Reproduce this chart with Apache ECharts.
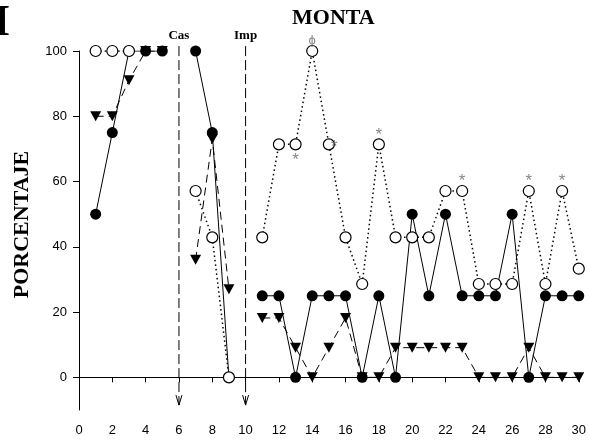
<!DOCTYPE html>
<html>
<head>
<meta charset="utf-8">
<script src="https://cdn.jsdelivr.net/npm/echarts@6/dist/echarts.min.js"></script>
<style>html,body{margin:0;padding:0;background:#fff;}#c{width:589px;height:442px;}</style>
</head>
<body>
<div id="c"></div>
<script>
// ---- data ----
const days = [1,2,3,4,5,6,7,8,9,10,11,12,13,14,15,16,17,18,19,20,21,22,23,24,25,26,27,28,29,30];
const filledCircle = [50,75,100,100,100,null,100,75,0,null,25,25,0,25,25,25,0,25,0,50,25,50,25,25,25,50,0,25,25,25];
const triangleDown = [80,80,91,100,100,null,36,73,27,null,18.2,18.2,9.1,0,9.1,18.2,0,0,9.1,9.1,9.1,9.1,9.1,0,0,0,9.1,0,0,0];
const openCircle = [100,100,100,null,null,null,57.1,42.9,0,null,42.9,71.4,71.4,100,71.4,42.9,28.6,71.4,42.9,42.9,42.9,57.1,57.1,28.6,28.6,28.6,57.1,28.6,57.1,33.3];
const eventDays = [6,10];
const eventLabels = ['Cas','Imp'];
const eventTop = 101.5;
const eventBottom = -8.5;
const annoDays = [13,14,15,18,23,27,29];
const annoText = ['*','\u03D5','*','*','*','*','*'];
const annoPos = ['bottom','top','right','top','top','top','top'];
const yTicks = [0,20,40,60,80,100];

const pairs = arr => days.map((d,i) => [d, arr[i]]);
const serif = '"Liberation Serif","Times New Roman",serif';
const sans = '"Liberation Sans",Arial,sans-serif';
const annoDist = {bottom: 7, right: 2, top: 1};
const annoShift = {bottom: [0,0], right: [0,3], top: [0,0]};

const chart = echarts.init(document.getElementById('c'), null, {renderer:'canvas'});
chart.setOption({
  animation: false,
  backgroundColor: '#fff',
  title: {
    text: 'MONTA', left: 287, top: 2,
    textStyle: {fontFamily: serif, fontWeight: 'bold', fontSize: 22, color: '#000'}
  },
  graphic: [{
    type: 'text', left: -7, top: 2,
    style: {text: 'I', font: 'bold 44px ' + serif, fill: '#000'}
  }],
  grid: {left: 79, right: 9, top: 51, bottom: 32, containLabel: false},
  xAxis: {
    type: 'value', min: 0, max: 30, interval: 2,
    axisLine: {lineStyle: {color: '#000', width: 1}},
    axisTick: {show: true, length: 5, lineStyle: {color: '#000'}},
    axisLabel: {color: '#000', fontFamily: sans, fontSize: 13, margin: 14},
    splitLine: {show: false}
  },
  yAxis: {
    type: 'value', min: -10, max: 100,
    name: 'PORCENTAJE', nameLocation: 'middle', nameGap: 46,
    nameTextStyle: {fontFamily: serif, fontWeight: 'bold', fontSize: 22, color: '#000', padding: [0,0,0,12]},
    axisLine: {show: true, lineStyle: {color: '#000', width: 1}},
    axisTick: {show: true, length: 6, customValues: yTicks, lineStyle: {color: '#000'}},
    axisLabel: {color: '#000', fontFamily: sans, fontSize: 13, margin: 12, customValues: yTicks},
    splitLine: {show: false}
  },
  series: [
    {
      type: 'line', name: 'tri', data: pairs(triangleDown), z: 2,
      symbol: 'path://M0,0 L10,0 L5,9 Z', symbolSize: [11,10], showAllSymbol: true,
      lineStyle: {color: '#000', width: 1, type: [8,5]},
      itemStyle: {color: '#000'}
    },
    {
      type: 'line', name: 'filled', data: pairs(filledCircle), z: 3,
      symbol: 'circle', symbolSize: 11, showAllSymbol: true,
      lineStyle: {color: '#000', width: 1},
      itemStyle: {color: '#000'}
    },
    {
      type: 'line', name: 'open', data: pairs(openCircle), z: 4,
      symbol: 'circle', symbolSize: 11, showAllSymbol: true,
      lineStyle: {color: '#000', width: 1.5, type: [1.5,3]},
      itemStyle: {color: '#fff', borderColor: '#000', borderWidth: 1.2}
    },
    {
      type: 'scatter', name: 'anno', z: 5, symbolSize: 0, silent: true,
      data: annoDays.map((d,i) => ({
        value: [d, openCircle[days.indexOf(d)]],
        label: {show: true, formatter: annoText[i], position: annoPos[i],
                distance: annoText[i] === '*' ? annoDist[annoPos[i]] : 4,
                offset: annoText[i] === '*' ? annoShift[annoPos[i]] : [0,0],
                color: '#666', fontFamily: sans, fontSize: annoText[i] === '*' ? 17 : 13}
      }))
    },
    {
      type: 'custom', name: 'events', z: 1, clip: false,
      data: eventDays.map((d,i) => [d, eventTop, eventBottom, i]),
      renderItem: function (params, api) {
        const top = api.coord([api.value(0), api.value(1)]);
        const bot = api.coord([api.value(0), api.value(2)]);
        const label = eventLabels[api.value(3)];
        return {
          type: 'group',
          children: [
            {type: 'line', shape: {x1: top[0], y1: top[1], x2: bot[0], y2: bot[1]},
             style: {stroke: '#000', lineWidth: 1, lineDash: [10,4]}},
            {type: 'polyline', shape: {points: [[bot[0]-3, bot[1]-10],[bot[0], bot[1]],[bot[0]+3, bot[1]-10]]},
             style: {stroke: '#000', lineWidth: 1, fill: null}},
            {type: 'text', style: {text: label, x: top[0], y: top[1]-4, align: 'center', verticalAlign: 'bottom',
              font: 'bold 13px ' + serif, fill: '#000'}}
          ]
        };
      }
    }
  ]
});
</script>
</body>
</html>
